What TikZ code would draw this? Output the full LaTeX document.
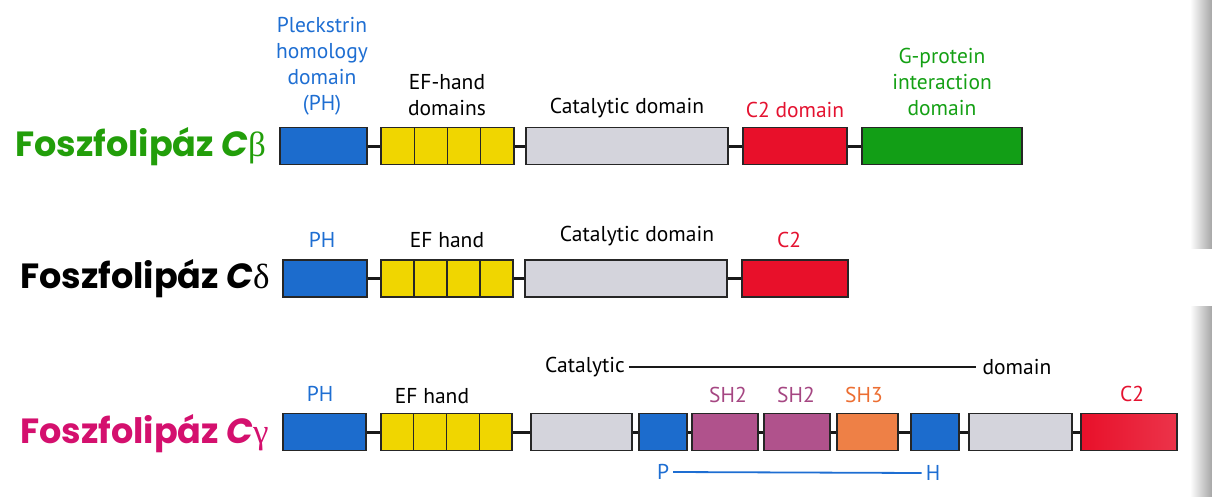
\documentclass[tikz,border=0pt]{standalone}
\usepackage{fontspec}
\setmainfont{PT Sans}
\newfontfamily\titlefont{Poppins}
\newfontfamily\grkfont{Liberation Serif}
\usetikzlibrary{positioning}
\definecolor{phblue}{RGB}{28,108,205}
\definecolor{efyellow}{RGB}{240,214,0}
\definecolor{catgray}{RGB}{212,212,220}
\definecolor{ctwored}{RGB}{232,16,42}
\definecolor{gpgreen}{RGB}{18,158,22}
\definecolor{shpurple}{RGB}{176,82,140}
\definecolor{shorange}{RGB}{238,128,70}
\definecolor{txtblue}{RGB}{30,110,210}
\definecolor{txtred}{RGB}{228,18,48}
\definecolor{txtgreen}{RGB}{20,160,20}
\definecolor{txtpurple}{RGB}{165,70,130}
\definecolor{txtorange}{RGB}{236,110,50}
\definecolor{ttlgreen}{RGB}{34,158,10}
\definecolor{ttlmagenta}{RGB}{212,16,110}
\tikzset{
  dom/.style={draw=black!85, line width=1.4pt, rectangle, inner sep=0pt, minimum height=37pt},
  link/.style={line width=3pt, black!90},
  lab/.style={font=\fontsize{21.5}{26}\selectfont, align=center, inner sep=0pt},
  ttl/.style={font=\titlefont\bfseries\fontsize{35}{40}\selectfont, anchor=base west, inner sep=0pt}
}

\begin{document}
\begin{tikzpicture}[x=1pt,y=-1pt]
  \useasboundingbox (0,0) rectangle (1212,496);
  % page gutter
  \fill[left color=white, right color=black!35] (1190,0) rectangle (1212,248);
  \fill[left color=white, right color=black!35] (1190,306) rectangle (1212,496);

  % --- C beta ---
  \node[ttl, text=ttlgreen] (tb) at (15,156) {Foszfolipáz {\itshape C}{\grkfont\mdseries β}};
  \node[dom, fill=phblue, minimum width=87pt] (phb) at (323.5,146) {};
  \foreach \i/\x in {1/397.6, 2/430.9, 3/464.1, 4/497.4}
    \node[dom, fill=efyellow, minimum width=33.25pt] (efb\i) at (\x,146) {};
  \node[dom, fill=catgray, minimum width=202pt] (catb) at (627,146) {};
  \node[dom, fill=ctwored, minimum width=104pt] (ctb) at (795,146) {};
  \node[dom, fill=gpgreen, minimum width=160pt] (gpb) at (942,146) {};
  \draw[link] (phb) -- (efb1);
  \draw[link] (efb4) -- (catb);
  \draw[link] (catb) -- (ctb);
  \draw[link] (ctb) -- (gpb);
  \node[lab, text=txtblue] (lphb) at (322,66) {Pleckstrin\\homology\\domain\\(PH)};
  \node[lab] (lefb) at (447,95) {EF-hand\\domains};
  \node[lab] (lcatb) at (627,108) {Catalytic domain};
  \node[lab, text=txtred] (lctb) at (795,110) {C2 domain};
  \node[lab, text=txtgreen] (lgpb) at (942,82) {G-protein\\interaction\\domain};

  % --- C delta ---
  \node[ttl, text=black] (td) at (20,288) {Foszfolipáz {\itshape C}{\grkfont\mdseries δ}};
  \node[dom, fill=phblue, minimum width=84pt] (phd) at (325,278.5) {};
  \foreach \i/\x in {1/397.5, 2/430.5, 3/463.5, 4/496.5}
    \node[dom, fill=efyellow, minimum width=33pt] (efd\i) at (\x,278.5) {};
  \node[dom, fill=catgray, minimum width=202pt] (catd) at (626,278.5) {};
  \node[dom, fill=ctwored, minimum width=106pt] (ctd) at (795,278.5) {};
  \draw[link] (phd) -- (efd1);
  \draw[link] (efd4) -- (catd);
  \draw[link] (catd) -- (ctd);
  \node[lab, text=txtblue] (lphd) at (322,240) {PH};
  \node[lab] (lefd) at (447,240) {EF hand};
  \node[lab] (lcatd) at (637,236) {Catalytic domain};
  \node[lab, text=txtred] (lctd) at (789,240) {C2};

  % --- C gamma ---
  \node[ttl, text=ttlmagenta] (tg) at (20,443) {Foszfolipáz {\itshape C}{\grkfont\mdseries γ}};
  \node[dom, fill=phblue, minimum width=83pt] (phg) at (324.5,432) {};
  \foreach \i/\x in {1/397.4, 2/430.1, 3/462.9, 4/495.6}
    \node[dom, fill=efyellow, minimum width=32.75pt] (efg\i) at (\x,432) {};
  \node[dom, fill=catgray, minimum width=101pt] (catga) at (581.5,432) {};
  \node[dom, fill=phblue, minimum width=48pt] (phga) at (663,432) {};
  \node[dom, fill=shpurple, minimum width=66pt] (sha) at (725,432) {};
  \node[dom, fill=shpurple, minimum width=66pt] (shb) at (797,432) {};
  \node[dom, fill=shorange, minimum width=61pt] (shc) at (867.5,432) {};
  \node[dom, fill=phblue, minimum width=48pt] (phgb) at (935,432) {};
  \node[dom, fill=catgray, minimum width=103pt] (catgb) at (1020.5,432) {};
  \node[dom, left color=ctwored, right color=ctwored!85!white, minimum width=96pt] (ctg) at (1129,432) {};
  \draw[link] (phg) -- (efg1);
  \draw[link] (efg4) -- (catga);
  \draw[link] (catga) -- (phga);
  \draw[link] (phga) -- (sha);
  \draw[link] (sha) -- (shb);
  \draw[link] (shb) -- (shc);
  \draw[link] (shc) -- (phgb);
  \draw[link] (phgb) -- (catgb);
  \draw[link] (catgb) -- (ctg);
  \node[lab, text=txtblue] (lphg) at (320,394) {PH};
  \node[lab] (lefg) at (432,396) {EF hand};
  \node[lab] (lcatg) at (585,367) {Catalytic};
  \node[lab] (ldomg) at (1017,367) {domain};
  \draw[line width=1.4pt, black!90] ([xshift=4pt]lcatg.east) -- ([xshift=-6pt]ldomg.west);
  \node[lab, text=txtpurple] (lsha) at (728,395) {SH2};
  \node[lab, text=txtpurple] (lshb) at (796,395) {SH2};
  \node[lab, text=txtorange] (lshc) at (864,395) {SH3};
  \node[lab, text=txtred] (lctg) at (1132,394) {C2};
  \node[lab, text=txtblue] (lp) at (663,472) {P};
  \node[lab, text=txtblue] (lh) at (933,473) {H};
  \draw[line width=1.8pt, txtblue] ([xshift=4pt]lp.east) -- ([xshift=-4pt]lh.west);
\end{tikzpicture}
\end{document}
